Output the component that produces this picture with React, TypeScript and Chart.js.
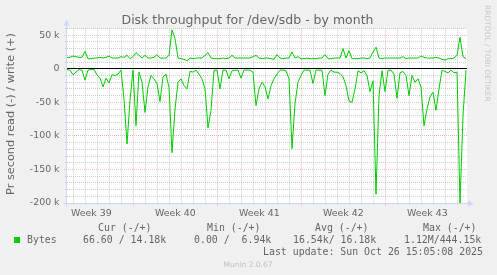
import React, { useEffect, useRef } from 'react';
import { Chart, registerables } from 'chart.js';

Chart.register(...registerables);

// ---------- text ----------
const TITLE = 'Disk throughput for /dev/sdb - by month';
const Y_TITLE = 'Pr second read (-) / write (+)';
const SERIES_NAME = 'Bytes';
const LEGEND_HEAD = ['Cur (-/+)', 'Min (-/+)', 'Avg (-/+)', 'Max (-/+)'];
const LEGEND_VALUES = ['66.60 / 14.18k', '0.00 /  6.94k', '16.54k/ 16.18k', '1.12M/444.15k'];
const LAST_UPDATE = 'Last update: Sun Oct 26 15:05:08 2025';
const FOOTER = 'Munin 2.0.67';
const WATERMARK = 'RRDTOOL / TOBI OETIKER';

// ---------- axes (x in days since Monday of week 39, y in k) ----------
const WEEK_LABELS = ['Week 39', 'Week 40', 'Week 41', 'Week 42', 'Week 43'];
const WEEK_CENTERS = [3.5, 10.5, 17.5, 24.5, 31.5];
const Y_TICKS = [-200, -150, -100, -50, 0, 50];
const X_MIN = 1.475;
const X_MAX = 34.808;
const Y_MIN = -200;
const Y_MAX = 60;

// ---------- data (6-hour samples, k bytes/s) ----------
const SAMPLE_START = 1.475;
const SAMPLE_STEP = 0.25;

const writeK = [
  17, 17, 19, 18, 17, 17, 26, 15, 15, 16,
  16, 17, 16, 17, 19, 16, 16, 16, 18, 17,
  20, 15, 18, 24, 20, 16, 20, 16, 16, 17,
  21, 16, 16, 16, 20, 58, 45, 16, 15, 14,
  12, 16, 15, 16, 16, 16, 20, 24, 16, 15,
  15, 15, 16, 15, 16, 20, 16, 16, 16, 16,
  16, 16, 18, 20, 16, 15, 16, 16, 15, 14,
  21, 16, 15, 16, 16, 25, 16, 18, 15, 15,
  16, 15, 15, 15, 16, 16, 21, 15, 15, 16,
  16, 16, 30, 16, 27, 15, 15, 15, 16, 16,
  15, 16, 25, 32, 16, 15, 16, 16, 16, 16,
  16, 16, 18, 15, 16, 16, 16, 16, 19, 17,
  16, 16, 16, 17, 16, 14, 13, 15, 15, 16,
  20, 47, 18, 15,
];

const readK = [
  -1, -2, -9, -5, -1, -2, -17, -2, -1, -1,
  -9, -14, -27, -14, -21, -9, -10, -8, -2, -45,
  -112, -47, -2, -85, -5, -20, -65, -27, -10, -15,
  -22, -49, -12, -8, -28, -125, -60, -20, -15, -25,
  -30, -4, -5, -2, -8, -15, -30, -88, -62, -2,
  -2, -30, -2, -2, -15, -3, -2, -2, -14, -2,
  -2, -2, -5, -55, -30, -20, -27, -45, -25, -15,
  -8, -2, -2, -3, -15, -119, -52, -20, -10, -2,
  -2, -2, -22, -2, -2, -2, -40, -8, -2, -5,
  -5, -7, -12, -25, -48, -50, -30, -3, -6, -3,
  -10, -34, -18, -187, -40, -3, -34, -2, -2, -8,
  -44, -6, -4, -10, -40, -10, -20, -15, -27, -85,
  -60, -42, -35, -62, -30, -2, -4, -6, -2, -6,
  -5, -200, -70, -2,
];

// ---------- style ----------
const BACK = '#F0F0F0';
const FONT_COLOR = '#666666';
const GREEN = '#00CC00';
const AXIS = '#CFD6F8';
const GRID = 'rgba(143,143,143,0.42)';
const MGRID = 'rgba(228,80,80,0.4)';
const SANS = "'DejaVu Sans', sans-serif";
const MONO = "'DejaVu Sans Mono', monospace";

const gridPlugin = {
  id: 'rrdGrid',
  beforeDatasetsDraw(chart: any) {
    const { ctx, chartArea: a, scales } = chart;
    const x = scales.x;
    const y = scales.y;
    ctx.save();
    ctx.fillStyle = '#FFFFFF';
    ctx.fillRect(a.left, a.top, a.right - a.left, a.bottom - a.top);
    ctx.lineWidth = 1;
    ctx.setLineDash([1, 1]);
    for (let v = Y_MIN; v <= Y_MAX; v += 10) {
      const major = v % 50 === 0;
      const py = Math.floor(y.getPixelForValue(v)) + 0.5;
      ctx.strokeStyle = major ? MGRID : GRID;
      ctx.beginPath();
      ctx.moveTo(a.left - (major ? 3 : 2), py);
      ctx.lineTo(a.right, py);
      ctx.stroke();
    }
    for (let d = Math.ceil(X_MIN); d <= X_MAX; d += 1) {
      const major = d % 7 === 0;
      const px = Math.floor(x.getPixelForValue(d)) + 0.5;
      ctx.strokeStyle = major ? MGRID : GRID;
      ctx.beginPath();
      ctx.moveTo(px, a.top);
      ctx.lineTo(px, a.bottom + (major ? 3 : 2));
      ctx.stroke();
    }
    ctx.restore();
  },
  afterDatasetsDraw(chart: any) {
    const { ctx, chartArea: a, scales } = chart;
    const y = scales.y;
    ctx.save();
    // zero line
    const zy = Math.floor(y.getPixelForValue(0)) + 0.5;
    ctx.strokeStyle = '#000000';
    ctx.lineWidth = 1;
    ctx.beginPath();
    ctx.moveTo(a.left, zy);
    ctx.lineTo(a.right, zy);
    ctx.stroke();
    // axes
    const ax = Math.floor(a.left) - 0.5;
    const ay = Math.floor(a.bottom) + 0.5;
    ctx.strokeStyle = AXIS;
    ctx.fillStyle = AXIS;
    ctx.beginPath();
    ctx.moveTo(ax, ay + 3);
    ctx.lineTo(ax, a.top - 4);
    ctx.moveTo(ax - 3, ay);
    ctx.lineTo(a.right + 2, ay);
    ctx.stroke();
    ctx.beginPath();
    ctx.moveTo(ax, a.top - 9);
    ctx.lineTo(ax - 3, a.top - 3);
    ctx.lineTo(ax + 3, a.top - 3);
    ctx.closePath();
    ctx.fill();
    ctx.beginPath();
    ctx.moveTo(a.right + 7, ay);
    ctx.lineTo(a.right + 1, ay - 3);
    ctx.lineTo(a.right + 1, ay + 3);
    ctx.closePath();
    ctx.fill();
    ctx.restore();
  },
  afterDraw(chart: any) {
    const { ctx } = chart;
    ctx.save();
    ctx.fillStyle = FONT_COLOR;
    ctx.textBaseline = 'alphabetic';
    // title
    ctx.font = `12.5px ${SANS}`;
    ctx.textAlign = 'center';
    ctx.fillText(TITLE, 247.5, 24);
    // y title
    ctx.save();
    ctx.translate(13.5, 114);
    ctx.rotate(-Math.PI / 2);
    ctx.font = `11.3px ${SANS}`;
    ctx.textAlign = 'center';
    ctx.fillText(Y_TITLE, 0, 0);
    ctx.restore();
    // legend
    ctx.font = `9.9px ${MONO}`;
    ctx.textAlign = 'left';
    const headX = [98, 207, 315, 423];
    LEGEND_HEAD.forEach((t, i) => ctx.fillText(t, headX[i], 230.5));
    ctx.fillStyle = GREEN;
    ctx.fillRect(14, 237, 6, 6);
    ctx.fillStyle = FONT_COLOR;
    ctx.fillText(SERIES_NAME, 27, 242.5);
    const valX = [83, 194, 293, 404];
    LEGEND_VALUES.forEach((t, i) => ctx.fillText(t, valX[i], 242.5));
    ctx.textAlign = 'right';
    ctx.fillText(LAST_UPDATE, 483, 254.5);
    // footer
    ctx.font = `7.5px ${SANS}`;
    ctx.textAlign = 'center';
    ctx.fillStyle = '#C0C0C0';
    ctx.fillText(FOOTER, 248, 267);
    // watermark
    ctx.save();
    ctx.translate(485, 5);
    ctx.rotate(Math.PI / 2);
    ctx.textAlign = 'left';
    ctx.fillStyle = '#C8C8C8';
    ctx.font = `7.5px ${SANS}`;
    ctx.fillText(WATERMARK, 0, 0);
    ctx.restore();
    ctx.restore();
  },
};

export default function App() {
  const ref = useRef<HTMLCanvasElement>(null);
  useEffect(() => {
    const canvas = ref.current;
    if (!canvas) return;
    const toPoints = (arr: number[]) =>
      arr.map((v, i) => ({ x: SAMPLE_START + i * SAMPLE_STEP, y: v }));
    const lineStyle = {
      borderColor: GREEN,
      backgroundColor: GREEN,
      borderWidth: 1,
      pointRadius: 0,
      tension: 0,
      fill: false,
    };
    const chart = new Chart(canvas, {
      type: 'line',
      data: {
        datasets: [
          { label: 'read', data: toPoints(readK), ...lineStyle },
          { label: 'write', data: toPoints(writeK), ...lineStyle },
        ],
      },
      options: {
        responsive: false,
        animation: false,
        devicePixelRatio: 1,
        events: [],
        layout: { padding: { left: 0, right: 30, top: 28.5, bottom: 0 } },
        plugins: {
          legend: { display: false },
          title: { display: false },
          tooltip: { enabled: false },
        },
        scales: {
          x: {
            type: 'linear',
            min: X_MIN,
            max: X_MAX,
            bounds: 'data',
            grid: { display: false, drawTicks: false },
            border: { display: false },
            afterBuildTicks: (s: any) => {
              s.ticks = WEEK_CENTERS.map((v) => ({ value: v }));
            },
            afterFit: (s: any) => {
              s.height = 72;
            },
            ticks: {
              autoSkip: false,
              maxRotation: 0,
              padding: 5,
              color: FONT_COLOR,
              font: { family: SANS, size: 9.4 },
              callback: (_v: any, i: number) => WEEK_LABELS[i],
            },
          },
          y: {
            type: 'linear',
            min: Y_MIN,
            max: Y_MAX,
            bounds: 'data',
            grid: { display: false, drawTicks: false },
            border: { display: false },
            afterBuildTicks: (s: any) => {
              s.ticks = Y_TICKS.map((v) => ({ value: v }));
            },
            afterFit: (s: any) => {
              s.width = 67;
            },
            ticks: {
              padding: 7.5,
              color: FONT_COLOR,
              font: { family: SANS, size: 9.4 },
              callback: (v: any) => (Number(v) === 0 ? '0' : `${v} k`),
            },
          },
        },
      },
      plugins: [gridPlugin],
    } as any);
    return () => chart.destroy();
  }, []);
  return (
    <div style={{ position: 'fixed', left: 0, top: 0, width: 497, height: 275, background: BACK }}>
      <canvas ref={ref} width={497} height={275} style={{ display: 'block' }} />
    </div>
  );
}
